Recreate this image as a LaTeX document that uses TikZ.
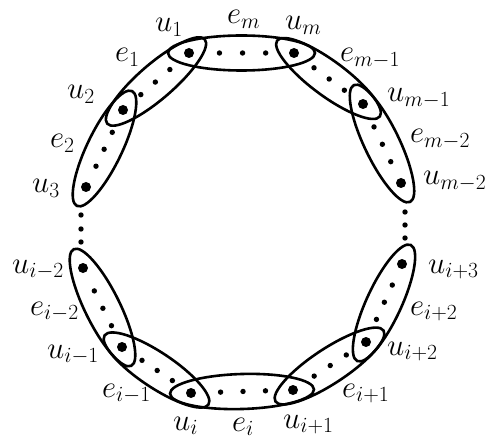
\RequirePackage{fix-cm}
\documentclass[tikz,border=0pt]{standalone}
\usetikzlibrary{calc,shapes.geometric}
\tikzset{
  hyper/.style={draw, ellipse, line width=2.6bp, inner sep=0pt, outer sep=0pt, minimum height=35bp},
  bdot/.style={circle, fill, inner sep=0pt, minimum size=10bp},
  sdot/.style={circle, fill, inner sep=0pt, minimum size=5.4bp},
  lab/.style={anchor=base west, inner sep=0pt, font=\fontsize{31}{36}\selectfont},
}
\newcommand\hedge[3]{%
  \path let \p1=($(#2)-(#1)$), \n1={atan2(\y1,\x1)}, \n2={veclen(\x1,\y1)} in
    node[hyper, rotate=\n1, minimum width={\n2+42bp}] (#3) at ($(#1)!0.5!(#2)$) {}
    node[sdot] (#3a) at ($(#1)!0.29!(#2)$) {}
    node[sdot] (#3b) at ($(#1)!0.51!(#2)$) {}
    node[sdot] (#3c) at ($(#1)!0.73!(#2)$) {};}
\begin{document}
\begin{tikzpicture}[x=1bp, y=-1bp]
\useasboundingbox (0,0) rectangle (488,439);
% vertices
\node[bdot] (u1) at (189,53) {};
\node[bdot] (um) at (294,53) {};
\node[bdot] (um1) at (363,104) {};
\node[bdot] (um2) at (401,183) {};
\node[bdot] (u2) at (123,110) {};
\node[bdot] (u3) at (86,187) {};
\node[bdot] (ui2) at (83,268) {};
\node[bdot] (ui1) at (122,347) {};
\node[bdot] (ui) at (191,393) {};
\node[bdot] (uip1) at (293,390) {};
\node[bdot] (uip2) at (366,342) {};
\node[bdot] (uip3) at (402,264) {};
% hyperedges
\hedge{u1}{um}{em}
\hedge{u1}{u2}{ea}
\hedge{u2}{u3}{eb}
\hedge{um}{um1}{emm}
\hedge{um1}{um2}{emmm}
\hedge{ui2}{ui1}{eii}
\hedge{ui1}{ui}{ei}
\hedge{ui}{uip1}{eo}
\hedge{uip1}{uip2}{eop}
\hedge{uip2}{uip3}{eopp}
% vertical dots
\node[sdot] (vl1) at (81,215) {};
\node[sdot] (vl2) at (81,229) {};
\node[sdot] (vl3) at (81,242) {};
\node[sdot] (vr1) at (405,212) {};
\node[sdot] (vr2) at (405,225) {};
\node[sdot] (vr3) at (405,238) {};
% labels
\node[lab] (l1) at (155,32) {$u_1$};
\node[lab] (l2) at (115,62) {$e_1$};
\node[lab] (l3) at (67,99) {$u_2$};
\node[lab] (l4) at (50,148) {$e_2$};
\node[lab] (l5) at (32,193) {$u_3$};
\node[lab] (l6) at (227,24) {$e_m$};
\node[lab] (l7) at (285,30) {$u_m$};
\node[lab] (l8) at (340,62) {$e_{m-1}$};
\node[lab] (l9) at (387,102) {$u_{m-1}$};
\node[lab] (l10) at (410,143) {$e_{m-2}$};
\node[lab] (l11) at (423,185) {$u_{m-2}$};
\node[lab] (l12) at (12,273) {$u_{i-2}$};
\node[lab] (l13) at (30,315) {$e_{i-2}$};
\node[lab] (l14) at (47,358) {$u_{i-1}$};
\node[lab] (l15) at (102,397) {$e_{i-1}$};
\node[lab] (l16) at (173,430) {$u_i$};
\node[lab] (l17) at (232,431) {$e_i$};
\node[lab] (l18) at (283,428) {$u_{i+1}$};
\node[lab] (l19) at (342,397) {$e_{i+1}$};
\node[lab] (l20) at (387,355) {$u_{i+2}$};
\node[lab] (l21) at (410,315) {$e_{i+2}$};
\node[lab] (l22) at (428,273) {$u_{i+3}$};
\end{tikzpicture}
\end{document}
